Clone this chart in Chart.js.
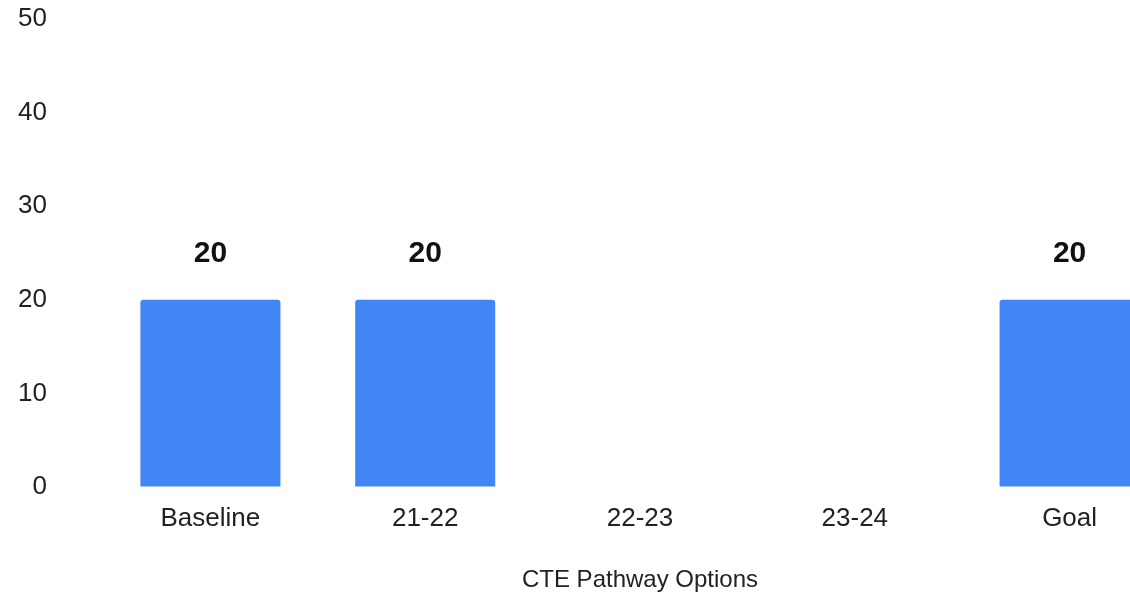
<!DOCTYPE html>
<html>
<head>
<meta charset="utf-8">
<script src="https://cdn.jsdelivr.net/npm/chart.js@4.4.1/dist/chart.umd.min.js"></script>
<style>
  html, body { margin: 0; padding: 0; background: #fff; overflow: hidden; }
  #wrap { width: 1177px; height: 595px; }
</style>
</head>
<body>
<div id="wrap"><canvas id="c" width="1177" height="595"></canvas></div>
<script>
const categories = ["Baseline", "21-22", "22-23", "23-24", "Goal"];
const values = [20, 20, null, null, 20];
const yTicks = [0, 10, 20, 30, 40, 50];
const xTitle = "CTE Pathway Options";

const FONT = '"Liberation Sans", Arial, Helvetica, sans-serif';

const valueLabels = {
  id: 'valueLabels',
  afterDatasetsDraw(chart) {
    const ctx = chart.ctx;
    const meta = chart.getDatasetMeta(0);
    ctx.save();
    ctx.font = 'bold 30px ' + FONT;
    ctx.fillStyle = '#111';
    ctx.textAlign = 'center';
    ctx.textBaseline = 'middle';
    meta.data.forEach((bar, i) => {
      const v = values[i];
      if (v === null || v === undefined) return;
      ctx.fillText(String(v), bar.x, bar.y - 46);
    });
    ctx.restore();
  }
};

new Chart(document.getElementById('c'), {
  type: 'bar',
  data: {
    labels: categories,
    datasets: [{
      data: values,
      backgroundColor: '#4285F4',
      borderWidth: 0,
      borderRadius: 3,
      borderSkipped: 'start',
      categoryPercentage: 1,
      barPercentage: 0.652
    }]
  },
  options: {
    responsive: false,
    animation: false,
    layout: { padding: { top: 19, left: 0, right: 0, bottom: 0 } },
    plugins: { legend: { display: false }, tooltip: { enabled: false } },
    scales: {
      x: {
        grid: { display: false, drawTicks: false },
        border: { display: false },
        ticks: { color: '#222', font: { family: FONT, size: 26 }, padding: 16, maxRotation: 0, autoSkip: false },
        title: { display: true, text: xTitle, color: '#222', font: { family: FONT, size: 24 }, padding: { top: 0, bottom: 0 } },
        afterFit(scale) { scale.height = 108; }
      },
      y: {
        min: 0, max: 50,
        grid: { display: true, drawOnChartArea: false, drawTicks: true, tickLength: 56, color: 'rgba(0,0,0,0)' },
        border: { display: false },
        afterBuildTicks(scale) { scale.ticks = yTicks.map(v => ({ value: v })); },
        ticks: { color: '#222', font: { family: FONT, size: 26 }, padding: 0 },
        afterFit(scale) { scale.width = 103; }
      }
    }
  },
  plugins: [valueLabels]
});
</script>
</body>
</html>
